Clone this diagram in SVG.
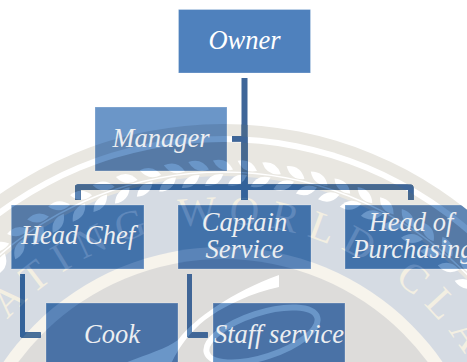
<svg xmlns="http://www.w3.org/2000/svg" width="467" height="362" viewBox="0 0 467 362">
<style>
.pg{--ring:#e9e7e1;--gap:#fff;--beige:#e9e7e1;--gray:#d5dbe3;--cream:#f7f4ec;--inner:#dddcda;--leaf:#fff;--let:#f3efe2}
.on{--ring:#5f86b4;--gap:#6b96c8;--beige:#567aa6;--gray:#4272aa;--cream:#5a84b8;--inner:#4a72a6;--leaf:#6a96c8;--let:#5f88bb}
.oc{--ring:#47698f;--gap:#3e6699;--beige:#47698f;--gray:#33629a;--cream:#4a7099;--inner:#3f6596;--leaf:#5b85b6;--let:#44709f}
.ring{fill:var(--ring)}.gap{fill:var(--gap)}.beige{fill:var(--beige)}.gray{fill:var(--gray)}.cream{fill:var(--cream)}.inner{fill:var(--inner)}
.leaf{fill:var(--leaf)}.stem{fill:none;stroke:var(--leaf);stroke-width:1.5}.sw{fill:var(--leaf)}.swr{fill:none;stroke:var(--leaf);stroke-width:6}
.let{fill:var(--let);font:41px "Liberation Serif","Times New Roman",serif;letter-spacing:11px}
.box{stroke:#fff;stroke-opacity:.25;stroke-width:1;fill:none}
.base{fill:#6b96c8}
.lbl{font:italic 26.5px "Liberation Serif","Times New Roman",serif;fill:#eceef1;text-anchor:middle}
.con{fill:#3e6699}
</style>
<defs>
<path id="arc" d="M7.500 320A290 290 0 0 1 503 439"/>
<g id="lf">
<path class="leaf" d="M-11 0Q0-9 11 0Q0 9-11 0" transform="translate(223 165) rotate(24)"/>
<path class="leaf" d="M-11 0Q0-9 11 0Q0 9-11 0" transform="translate(214 180) rotate(-32)"/>
</g>
<g id="wm">
<circle class="ring" cx="223" cy="514" r="390"/>
<circle class="gap" cx="223" cy="514" r="378"/>
<circle class="beige" cx="223" cy="514" r="372"/>
<circle class="gray" cx="223" cy="514" r="338"/>
<text class="let"><textPath href="#arc">ATING WORLD CLAS</textPath></text>
<circle class="cream" cx="223" cy="514" r="267"/>
<circle class="inner" cx="223" cy="514" r="255"/>
<circle class="stem" cx="223" cy="514" r="342"/>
<use href="#lf" transform="rotate(-44 223 514)"/><use href="#lf" transform="rotate(-40 223 514)"/><use href="#lf" transform="rotate(-36 223 514)"/><use href="#lf" transform="rotate(-32 223 514)"/><use href="#lf" transform="rotate(-28 223 514)"/><use href="#lf" transform="rotate(-24 223 514)"/><use href="#lf" transform="rotate(-20 223 514)"/><use href="#lf" transform="rotate(-16 223 514)"/><use href="#lf" transform="rotate(-12 223 514)"/><use href="#lf" transform="rotate(-8 223 514)"/><use href="#lf" transform="rotate(-4 223 514)"/><use href="#lf" transform="rotate(0 223 514)"/><use href="#lf" transform="rotate(4 223 514)"/><use href="#lf" transform="rotate(8 223 514)"/><use href="#lf" transform="rotate(12 223 514)"/><use href="#lf" transform="rotate(16 223 514)"/><use href="#lf" transform="rotate(20 223 514)"/><use href="#lf" transform="rotate(24 223 514)"/><use href="#lf" transform="rotate(28 223 514)"/><use href="#lf" transform="rotate(32 223 514)"/><use href="#lf" transform="rotate(36 223 514)"/><use href="#lf" transform="rotate(40 223 514)"/><use href="#lf" transform="rotate(44 223 514)"/><use href="#lf" transform="rotate(48 223 514)"/>
<path class="sw" d="M279 275V287C252 293 225 305 205 320C190 332 178 348 170 366H118C140 356 165 350 178 340C195 318 232 292 279 275Z"/>
<ellipse class="swr" cx="262" cy="335" rx="58" ry="22" transform="rotate(-18 262 335)"/>
</g>
<path id="conp" d="M241.500 78H247.500V184.500H410.500Q413.500 184.500 413.500 187.500V200H408V190H247.500V200H241.500V190H80.500V200H75V187.500Q75 184.500 78 184.500H241.500V141.500H232V136H241.500ZM20 274H25V332.500H40.500V337.500H22Q20 337.500 20 335.500ZM187 274H192V332.500H207.500V337.500H189Q187 337.500 187 335.500Z"/>
<clipPath id="cM"><rect x="95" y="107" width="132" height="64"/></clipPath>
<clipPath id="cH"><rect x="11.500" y="205" width="132.500" height="64"/></clipPath>
<clipPath id="cC"><rect x="178" y="205" width="133" height="64"/></clipPath>
<clipPath id="cP"><rect x="345" y="205" width="122" height="64"/></clipPath>
<clipPath id="cK"><rect x="46" y="303" width="132" height="59"/></clipPath>
<clipPath id="cS"><rect x="213" y="303" width="132" height="59"/></clipPath>
<clipPath id="cL"><use href="#conp"/></clipPath>
</defs>
<rect width="467" height="362" fill="#fff"/>
<g id="watermark"><use href="#wm" class="pg"/></g>
<g id="connectors"><use href="#conp" class="con"/><use href="#wm" class="oc" clip-path="url(#cL)"/></g>
<g id="owner"><rect x="178.500" y="9.500" width="132" height="63.500" fill="#4f81bd"/><rect class="box" x="178.500" y="9.500" width="132" height="63.500"/><text class="lbl" x="244.500" y="49" style="fill:#fff">Owner</text></g>
<g id="manager"><rect class="base" x="95" y="107" width="132" height="64"/><use href="#wm" class="on" clip-path="url(#cM)"/><rect class="box" x="95" y="107" width="132" height="64"/><text class="lbl" x="161" y="147">Manager</text></g>
<g id="head-chef"><use href="#wm" class="on" clip-path="url(#cH)"/><rect class="box" x="11.500" y="205" width="132.500" height="64"/><text class="lbl" x="78" y="244">Head Chef</text></g>
<g id="captain-service"><use href="#wm" class="on" clip-path="url(#cC)"/><rect class="box" x="178" y="205" width="133" height="64"/><text class="lbl" x="244.500" y="231">Captain</text><text class="lbl" x="244.500" y="258">Service</text></g>
<g id="head-of-purchasing"><use href="#wm" class="on" clip-path="url(#cP)"/><rect class="box" x="345" y="205" width="133" height="64"/><text class="lbl" x="411" y="231">Head of</text><text class="lbl" x="413" y="258">Purchasing</text></g>
<g id="cook"><use href="#wm" class="on" clip-path="url(#cK)"/><rect class="box" x="46" y="303" width="132" height="64"/><text class="lbl" x="112" y="343">Cook</text></g>
<g id="staff-service"><use href="#wm" class="on" clip-path="url(#cS)"/><rect class="box" x="213" y="303" width="132" height="64"/><text class="lbl" x="279" y="343">Staff service</text></g>
</svg>
